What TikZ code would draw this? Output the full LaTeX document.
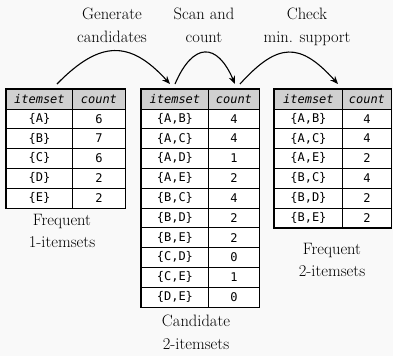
\documentclass[tikz,border=0pt]{standalone}
\usepackage{fontspec}
\newfontfamily\cellfont{DejaVu Sans Mono}[ItalicFont={DejaVu Sans Mono Oblique}]
\usetikzlibrary{arrows.meta}
\definecolor{headgray}{RGB}{208,208,208}
\definecolor{paper}{RGB}{249,249,249}

% One itemset/count table: name, left x, divider x, right x, top y, number of rows, rows
\newcommand\itemtable[7]{%
  \node[headcell, minimum width={#3-#2}, anchor=north west] (#1-0-a) at (#2,#5) {itemset};
  \node[headcell, minimum width={#4-#3}, anchor=north west] (#1-0-b) at (#3,#5) {count};
  \foreach \s/\c [count=\i] in {#7} {
    \node[cell, minimum width={#3-#2}, anchor=north west] (#1-\i-a)
      at (#2,{#5+19.5+(\i-1)*19.8}) {\{\s\}};
    \node[cell, minimum width={#4-#3}, anchor=north west] (#1-\i-b)
      at (#3,{#5+19.5+(\i-1)*19.8}) {\c};
  }
  \draw[frame] (#1-0-a.north west) rectangle (#1-#6-b.south east);
}

\begin{document}
\begin{tikzpicture}[x=1pt,y=-1pt,
  cell/.style={draw=black, line width=0.8pt, fill=white, inner sep=0pt,
    minimum height=19.8pt, font=\cellfont\fontsize{12}{14}\selectfont},
  headcell/.style={cell, fill=headgray, minimum height=19.5pt,
    font=\cellfont\itshape\fontsize{12}{14}\selectfont},
  frame/.style={draw=black, line width=1.3pt},
  caption/.style={font=\fontsize{16.5}{22.5}\selectfont, align=center, inner sep=0pt},
  flow/.style={line width=1.1pt, -{Stealth[length=8pt,width=6.5pt]}}]

\fill[paper] (0,0) rectangle (393,356);
\useasboundingbox (0,0) rectangle (393,356);

% tables
\itemtable{one}{6}{72}{125}{89}{5}{A/6, B/7, C/6, D/2, E/2}
\itemtable{cand}{141}{208}{259}{89}{10}{{A,B}/4, {A,C}/4, {A,D}/1, {A,E}/2, {B,C}/4,
  {B,D}/2, {B,E}/2, {C,D}/0, {C,E}/1, {D,E}/0}
\itemtable{freq}{274}{342}{391}{89}{6}{{A,B}/4, {A,C}/4, {A,E}/2, {B,C}/4, {B,D}/2, {B,E}/2}

% captions
\node[caption, anchor=north] (gen) at (112,8) {Generate\\candidates};
\node[caption, anchor=north] (scan) at (204,8) {Scan and\\count};
\node[caption, anchor=north] (check) at (307,8) {Check\\min. support};
\node[caption, anchor=north] (cap1) at (62,214) {Frequent\\1-itemsets};
\node[caption, anchor=north] (cap2) at (196,315) {Candidate\\2-itemsets};
\node[caption, anchor=north] (cap3) at (332,243) {Frequent\\2-itemsets};

% process arrows
\coordinate (a1s) at (57,84);
\coordinate (a1e) at (170,84);
\coordinate (a2s) at (175,84);
\coordinate (a2e) at (235,84);
\coordinate (a3s) at (240,84);
\coordinate (a3e) at (338,84);
\draw[flow] (a1s) .. controls (100,40) and (130,40) .. (a1e);
\draw[flow] (a2s) .. controls (193,42) and (217,42) .. (a2e);
\draw[flow] (a3s) .. controls (278,42) and (300,42) .. (a3e);
\end{tikzpicture}
\end{document}
